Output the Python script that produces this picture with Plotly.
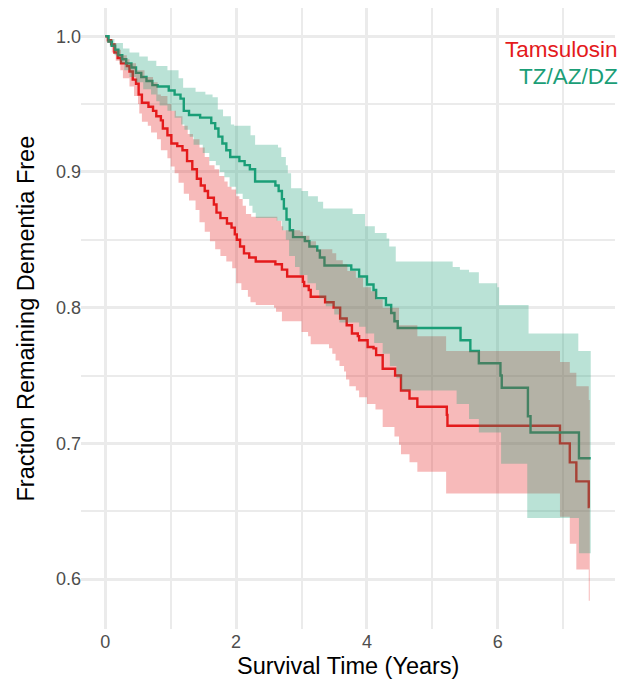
import plotly.graph_objects as go

# ---------------- data ----------------
# Tamsulosin Kaplan-Meier estimate
red_t = [0, 0.04, 0.09, 0.14, 0.19, 0.24, 0.33, 0.37, 0.42, 0.47, 0.51, 0.56, 0.66, 0.73, 0.78,
         0.85, 0.88, 0.95, 1.01, 1.10, 1.18, 1.25, 1.33, 1.40, 1.46, 1.52, 1.57, 1.66, 1.70, 1.76,
         1.86, 1.93, 1.98, 2.01, 2.06, 2.12, 2.20, 2.30, 2.60, 2.70, 2.78, 3.02, 3.04, 3.11, 3.14,
         3.36, 3.49, 3.59, 3.69, 3.77, 3.86, 3.88, 4.01, 4.10, 4.14, 4.24, 4.43, 4.52, 4.65, 4.77,
         5.22, 5.23, 6.95, 7.10, 7.20, 7.39, 7.405]
red_s = [1.0, 0.997, 0.994, 0.988, 0.984, 0.980, 0.978, 0.974, 0.968, 0.965, 0.957, 0.951, 0.948, 0.945, 0.941,
         0.938, 0.932, 0.927, 0.921, 0.919, 0.916, 0.908, 0.902, 0.895, 0.890, 0.886, 0.881, 0.876, 0.870, 0.866,
         0.862, 0.859, 0.854, 0.850, 0.845, 0.840, 0.837, 0.834, 0.832, 0.828, 0.823, 0.819, 0.816, 0.813, 0.808,
         0.804, 0.800, 0.792, 0.787, 0.781, 0.779, 0.776, 0.771, 0.770, 0.765, 0.755, 0.750, 0.739, 0.733, 0.727,
         0.721, 0.713, 0.700, 0.686, 0.672, 0.653, 0.653]

# Tamsulosin confidence band
red_up_t = [0, 0.04, 0.10, 0.17, 0.24, 0.33, 0.37, 0.47, 0.60, 0.73, 0.80, 0.85, 0.95, 1.01, 1.08,
            1.18, 1.26, 1.34, 1.44, 1.52, 1.59, 1.67, 1.74, 1.82, 1.87, 1.93, 2.00, 2.05, 2.10, 2.15,
            2.23, 2.63, 2.69, 2.72, 2.98, 3.02, 3.12, 3.22, 3.47, 3.53, 3.63, 3.70, 3.83, 3.94, 4.06,
            4.14, 4.24, 4.49, 4.77, 5.21, 6.95, 7.10, 7.20, 7.39, 7.405]
red_up = [1.0, 0.998, 0.995, 0.990, 0.986, 0.983, 0.980, 0.975, 0.970, 0.966, 0.957, 0.956, 0.950, 0.945, 0.941,
          0.934, 0.928, 0.924, 0.918, 0.911, 0.905, 0.902, 0.897, 0.893, 0.889, 0.887, 0.882, 0.880, 0.875, 0.869,
          0.867, 0.864, 0.860, 0.857, 0.856, 0.853, 0.849, 0.843, 0.840, 0.835, 0.832, 0.827, 0.822, 0.815, 0.812,
          0.806, 0.800, 0.787, 0.779, 0.768, 0.760, 0.752, 0.742, 0.732, 0.732]
red_lo_t = [0, 0.03, 0.10, 0.16, 0.23, 0.27, 0.37, 0.44, 0.50, 0.52, 0.56, 0.65, 0.70, 0.79, 0.85,
            0.95, 1.00, 1.06, 1.12, 1.20, 1.28, 1.38, 1.44, 1.52, 1.60, 1.68, 1.76, 1.85, 1.94, 2.00,
            2.08, 2.18, 2.22, 2.30, 2.58, 2.61, 2.70, 3.00, 3.10, 3.14, 3.42, 3.47, 3.52, 3.58, 3.65,
            3.68, 3.73, 3.83, 3.88, 4.00, 4.13, 4.24, 4.42, 4.49, 4.52, 4.65, 4.77, 5.21, 6.95, 7.10,
            7.20, 7.39, 7.405]
red_lo = [1.0, 0.995, 0.988, 0.982, 0.975, 0.969, 0.963, 0.956, 0.950, 0.943, 0.937, 0.934, 0.929, 0.924, 0.916,
          0.910, 0.904, 0.899, 0.892, 0.884, 0.879, 0.872, 0.863, 0.856, 0.849, 0.843, 0.838, 0.834, 0.829, 0.818,
          0.813, 0.808, 0.804, 0.802, 0.800, 0.797, 0.790, 0.782, 0.779, 0.773, 0.770, 0.766, 0.761, 0.757, 0.753,
          0.747, 0.742, 0.739, 0.734, 0.729, 0.725, 0.712, 0.705, 0.699, 0.692, 0.686, 0.679, 0.663, 0.646, 0.626,
          0.607, 0.584, 0.584]

# TZ/AZ/DZ Kaplan-Meier estimate
tz_t = [0, 0.05, 0.10, 0.15, 0.20, 0.26, 0.32, 0.40, 0.47, 0.55, 0.63, 0.72, 0.80, 0.97, 1.06,
        1.15, 1.20, 1.28, 1.45, 1.62, 1.68, 1.73, 1.79, 1.85, 1.91, 2.05, 2.13, 2.21, 2.29, 2.60,
        2.65, 2.70, 2.73, 2.77, 2.82, 2.87, 3.05, 3.12, 3.24, 3.28, 3.35, 3.76, 3.88, 4.00, 4.10,
        4.14, 4.29, 4.37, 4.42, 4.47, 5.43, 5.58, 5.71, 6.04, 6.06, 6.46, 6.50, 7.24, 7.42]
tz_s = [1.0, 0.996, 0.993, 0.990, 0.986, 0.983, 0.980, 0.977, 0.973, 0.970, 0.967, 0.964, 0.963, 0.960, 0.957,
        0.954, 0.945, 0.942, 0.940, 0.936, 0.932, 0.926, 0.921, 0.916, 0.911, 0.908, 0.905, 0.902, 0.893, 0.890,
        0.886, 0.880, 0.873, 0.865, 0.857, 0.852, 0.849, 0.845, 0.842, 0.837, 0.831, 0.828, 0.823, 0.817, 0.813,
        0.807, 0.802, 0.796, 0.790, 0.785, 0.776, 0.768, 0.759, 0.750, 0.741, 0.720, 0.708, 0.689, 0.689]

# TZ/AZ/DZ confidence band
tz_up_t = [0, 0.05, 0.14, 0.27, 0.37, 0.52, 0.65, 0.78, 0.95, 1.12, 1.19, 1.38, 1.53, 1.64, 1.72,
           1.80, 1.92, 1.97, 2.22, 2.29, 2.64, 2.69, 2.76, 2.79, 2.84, 3.00, 3.10, 3.25, 3.33, 3.78,
           3.97, 4.12, 4.30, 4.34, 4.44, 5.31, 5.42, 5.56, 5.71, 5.99, 6.02, 6.47, 7.23, 7.42]
tz_up = [1.0, 0.998, 0.995, 0.991, 0.988, 0.985, 0.982, 0.978, 0.975, 0.969, 0.962, 0.959, 0.957, 0.955, 0.946,
         0.941, 0.935, 0.934, 0.927, 0.920, 0.918, 0.911, 0.905, 0.899, 0.888, 0.886, 0.882, 0.878, 0.873, 0.869,
         0.860, 0.855, 0.851, 0.845, 0.834, 0.830, 0.828, 0.826, 0.818, 0.815, 0.802, 0.781, 0.768, 0.768]
tz_lo_t = [0, 0.03, 0.07, 0.14, 0.22, 0.29, 0.37, 0.47, 0.58, 0.70, 0.78, 0.83, 0.95, 1.06, 1.16,
           1.21, 1.29, 1.35, 1.49, 1.59, 1.69, 1.75, 1.82, 1.90, 2.00, 2.10, 2.20, 2.25, 2.30, 2.62,
           2.70, 2.76, 2.81, 2.90, 2.97, 3.09, 3.22, 3.27, 3.37, 3.50, 3.58, 3.88, 3.98, 4.11, 4.24,
           4.35, 4.45, 4.52, 5.37, 5.56, 5.71, 6.05, 6.45, 7.24, 7.42]
tz_lo = [1.0, 0.995, 0.992, 0.986, 0.980, 0.975, 0.970, 0.966, 0.961, 0.957, 0.952, 0.949, 0.945, 0.940, 0.935,
         0.931, 0.926, 0.920, 0.914, 0.908, 0.905, 0.900, 0.896, 0.889, 0.884, 0.880, 0.875, 0.870, 0.866, 0.864,
         0.857, 0.850, 0.838, 0.830, 0.824, 0.818, 0.813, 0.807, 0.801, 0.795, 0.789, 0.786, 0.781, 0.774, 0.766,
         0.757, 0.748, 0.739, 0.729, 0.718, 0.708, 0.685, 0.645, 0.619, 0.619]

group_names = ["Tamsulosin", "TZ/AZ/DZ"]
x_ticks = [0, 2, 4, 6]
x_minor = [1, 3, 5, 7]
y_ticks = [0.6, 0.7, 0.8, 0.9, 1.0]
y_labels = ["0.6", "0.7", "0.8", "0.9", "1.0"]
y_minor = [0.65, 0.75, 0.85, 0.95]

# ---------------- styling ----------------
RED = "#E41A1C"
GREEN = "#1B9E77"
RED_FILL = "rgba(228,26,28,0.3)"
GREEN_FILL = "rgba(27,158,119,0.3)"
GRID = "#EBEBEB"
FONT = "Liberation Sans, Arial, sans-serif"

fig = go.Figure()

# step lines first (bands are drawn over them, as in the reference)
fig.add_trace(go.Scatter(x=red_t, y=red_s, mode="lines", name=group_names[0],
                         line=dict(color=RED, width=2.4, shape="hv"), hoverinfo="skip"))
fig.add_trace(go.Scatter(x=tz_t, y=tz_s, mode="lines", name=group_names[1],
                         line=dict(color=GREEN, width=2.4, shape="hv"), hoverinfo="skip"))

# Tamsulosin band
fig.add_trace(go.Scatter(x=red_up_t, y=red_up, mode="lines",
                         line=dict(width=0, shape="hv", color=RED), hoverinfo="skip"))
fig.add_trace(go.Scatter(x=red_lo_t, y=red_lo, mode="lines", fill="tonexty", fillcolor=RED_FILL,
                         line=dict(width=0, shape="hv", color=RED), hoverinfo="skip"))
# TZ/AZ/DZ band
fig.add_trace(go.Scatter(x=tz_up_t, y=tz_up, mode="lines",
                         line=dict(width=0, shape="hv", color=GREEN), hoverinfo="skip"))
fig.add_trace(go.Scatter(x=tz_lo_t, y=tz_lo, mode="lines", fill="tonexty", fillcolor=GREEN_FILL,
                         line=dict(width=0, shape="hv", color=GREEN), hoverinfo="skip"))

# the page body adds an 8px margin, so the figure is 8px smaller than the window
fig.update_layout(
    width=628, height=678,
    margin=dict(l=73, r=21, t=0, b=57),
    paper_bgcolor="white", plot_bgcolor="white",
    showlegend=False,
    font=dict(family=FONT),
    xaxis=dict(range=[-0.371, 7.791], tickvals=x_ticks, showgrid=True, gridcolor=GRID, gridwidth=2.6,
               zeroline=False, showline=False, ticks="", ticklabelstandoff=0,
               tickfont=dict(size=18, color="#4D4D4D", family=FONT),
               minor=dict(tickvals=x_minor, showgrid=True, gridcolor=GRID, gridwidth=2.2)),
    yaxis=dict(range=[0.5632, 1.0208], tickvals=y_ticks, ticktext=y_labels, showgrid=True,
               gridcolor=GRID, gridwidth=2.6, zeroline=False, showline=False,
               ticks="", ticklabelstandoff=-1,
               tickfont=dict(size=18, color="#4D4D4D", family=FONT),
               minor=dict(tickvals=y_minor, showgrid=True, gridcolor=GRID, gridwidth=2.2)),
    annotations=[
        dict(text="Survival Time (Years)", xref="paper", yref="paper", x=0.5, y=0,
             xanchor="center", yanchor="middle", yshift=-37, showarrow=False,
             font=dict(size=23.5, color="black", family=FONT)),
        dict(text="Fraction Remaining Dementia Free", xref="paper", yref="paper", x=0, y=0.5,
             xanchor="center", yanchor="middle", xshift=-56, textangle=-90, showarrow=False,
             font=dict(size=23.5, color="black", family=FONT)),
        dict(text=group_names[0], xref="paper", yref="paper", x=1.0094, y=0.9324,
             xanchor="right", yanchor="middle", showarrow=False,
             font=dict(size=22.5, color=RED, family=FONT)),
        dict(text=group_names[1], xref="paper", yref="paper", x=1.0094, y=0.889,
             xanchor="right", yanchor="middle", showarrow=False,
             font=dict(size=22.5, color=GREEN, family=FONT)),
    ],
)

fig.write_html("out.html")
